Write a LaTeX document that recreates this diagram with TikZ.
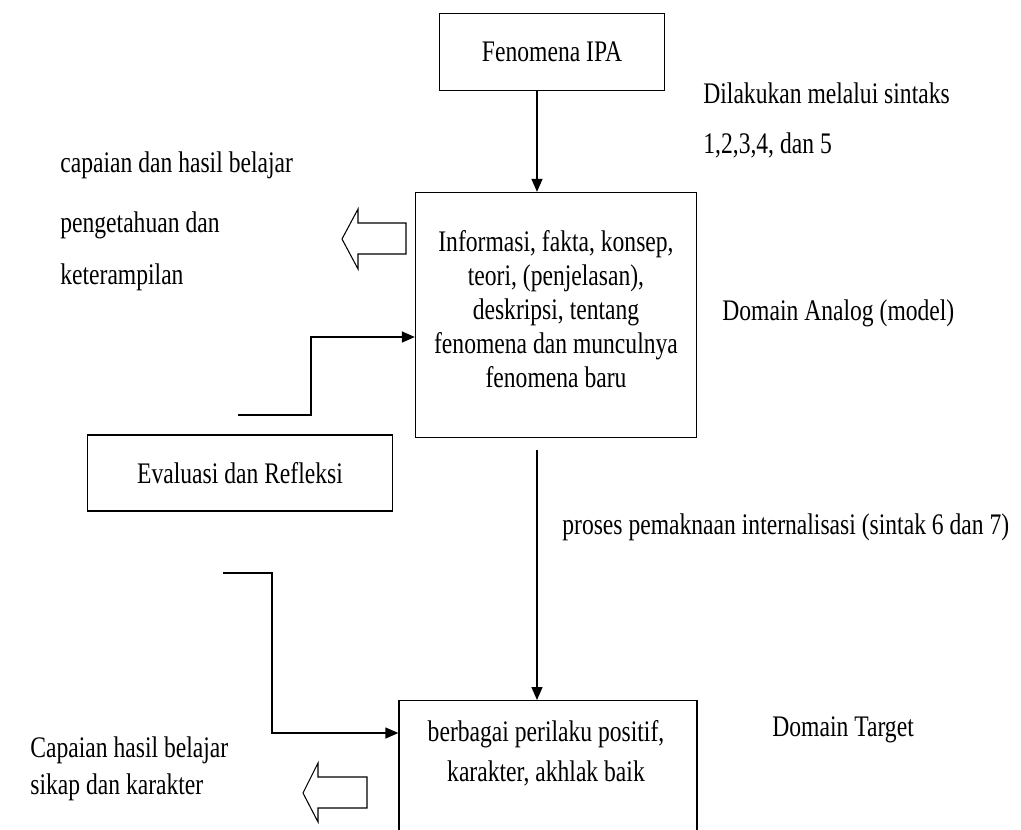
\documentclass[tikz,border=0pt]{standalone}
\usepackage{fontspec}
\setmainfont{Liberation Serif}[FakeStretch=0.79]
\usetikzlibrary{positioning, arrows.meta}

\begin{document}
\begin{tikzpicture}[
    x=0.02cm, y=-0.02cm,
    box/.style={
        rectangle,
        draw,
        line width=0.8pt,
        align=center,
        font=\fontsize{17}{19.4}\selectfont
    },
    lbl/.style={
        inner sep=0pt,
        anchor=west,
        align=left,
        font=\fontsize{17}{19.4}\selectfont
    },
    arrow/.style={
        line width=0.8pt,
        -{Triangle[length=2.6mm, width=2.2mm]}
    },
    fatarrow/.style={
        line width=0.6pt,
        fill=white
    }
]
\useasboundingbox (0,0) rectangle (1021,829);
\clip (0,0) rectangle (1021,829);

% boxes
\node[box, minimum width=4.5cm, minimum height=1.54cm] (fenomena) at (552,52) {Fenomena IPA};
\node[box, minimum width=5.62cm, minimum height=4.9cm] (analog) at (556,315) {};
\node[lbl, anchor=center, align=center] (analogtext) at (556,309)
    {Informasi, fakta, konsep,\\ teori, (penjelasan),\\ deskripsi, tentang\\ fenomena dan munculnya\\ fenomena baru};
\node[box, minimum width=6.1cm, minimum height=1.52cm] (evaluasi) at (240,473) {Evaluasi dan Refleksi};
\node[box, anchor=north, minimum width=5.96cm, minimum height=3.4cm] (target) at (548,700) {};
\node[lbl, anchor=center, align=center] (targettext) at (546,753)
    {berbagai perilaku positif,\\[1.1mm] karakter, akhlak baik};

% side texts
\node[lbl] (sintaks) at (703,93) {Dilakukan melalui sintaks};
\node[lbl] (sintaksno) at (703,145) {1,2,3,4, dan 5};
\node[lbl] (capaian) at (60,165) {capaian dan hasil belajar};
\node[lbl] (pengetahuan) at (60,225) {pengetahuan dan};
\node[lbl] (keterampilan) at (60,277) {keterampilan};
\node[lbl] (domanalog) at (722,313) {Domain Analog (model)};
\node[lbl] (proses) at (562,527) {proses pemaknaan internalisasi (sintak 6 dan 7)};
\node[lbl] (domtarget) at (772,730) {Domain Target};
\node[lbl] (capaiansikap) at (30,750) {Capaian hasil belajar};
\node[lbl] (sikap) at (30,787) {sikap dan karakter};

% connectors
\coordinate (down1) at (537,450);
\coordinate (fbstart1) at (238,415);
\coordinate (fbstart2) at (223,573);

\draw[arrow] (fenomena.south -| 537,0) -- (analog.north -| 537,0);
\draw[arrow] (down1) -- (target.north -| down1);
\draw[arrow] (fbstart1) -| (311,337) -- (analog.west |- 0,337);
\draw[arrow] (fbstart2) -| (272,733) -- (target.west |- 0,733);

% hollow arrows
\draw[fatarrow] (406,223) -- (358,223) -- (358,209) -- (342,239) -- (358,269) -- (358,254) -- (406,254) -- cycle;
\draw[fatarrow] (367,777) -- (318,777) -- (318,763) -- (303,793) -- (318,822) -- (318,808) -- (367,808) -- cycle;

\end{tikzpicture}
\end{document}
